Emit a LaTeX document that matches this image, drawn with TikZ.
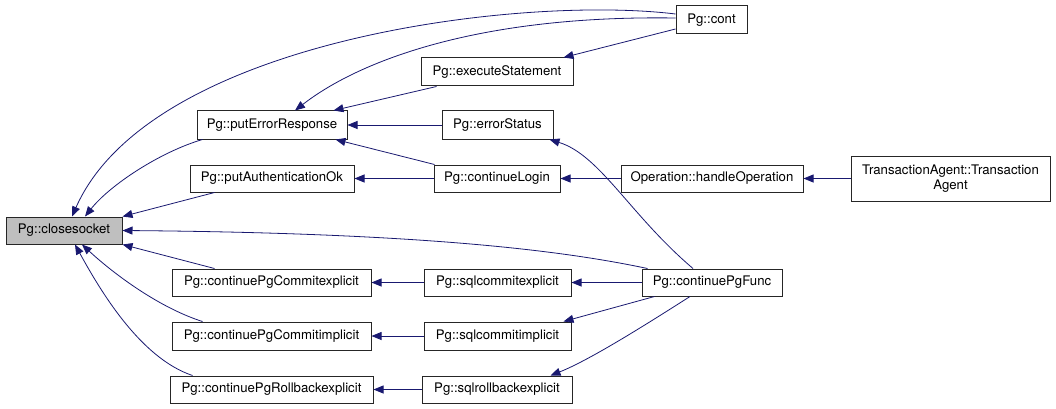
\documentclass[tikz,border=0pt]{standalone}
\usepackage{fontspec}
\setmainfont{TeX Gyre Heros}
\usetikzlibrary{arrows.meta}
\definecolor{edgeblue}{HTML}{191970}
\definecolor{boxgray}{HTML}{BFBFBF}
\begin{document}
\begin{tikzpicture}[x=1pt,y=-1pt,
  fn/.style={draw=black!85, line width=1pt, rectangle, inner sep=0pt, align=center,
    font=\fontsize{13.2pt}{15.5pt}\selectfont, fill=white},
  call/.style={draw=edgeblue, line width=0.8pt, -{Triangle[length=10pt,width=8pt]}, fill=none},
]
\useasboundingbox (0,0) rectangle (1056,409);
% nodes
\node[fn, fill=boxgray, minimum width=116pt, minimum height=27pt] (cs) at (64,230.5) {Pg::closesocket};
\node[fn, minimum width=150pt, minimum height=28pt] (per) at (272,125) {Pg::putErrorResponse};
\node[fn, minimum width=164pt, minimum height=27pt] (pao) at (272,178.5) {Pg::putAuthenticationOk};
\node[fn, minimum width=199pt, minimum height=27pt] (cpce) at (271.5,282.5) {Pg::continuePgCommitexplicit};
\node[fn, minimum width=199pt, minimum height=28pt] (cpci) at (271.5,336) {Pg::continuePgCommitimplicit};
\node[fn, minimum width=203pt, minimum height=27pt] (cprb) at (271.5,389.5) {Pg::continuePgRollbackexplicit};
\node[fn, minimum width=71pt, minimum height=28pt] (cont) at (711.5,20) {Pg::cont};
\node[fn, minimum width=152pt, minimum height=28pt] (es) at (497,72) {Pg::executeStatement};
\node[fn, minimum width=111pt, minimum height=28pt] (est) at (497.5,125) {Pg::errorStatus};
\node[fn, minimum width=126pt, minimum height=27pt] (cl) at (497,178.5) {Pg::continueLogin};
\node[fn, minimum width=182pt, minimum height=27pt] (ho) at (712,178.5) {Operation::handleOperation};
\node[fn, minimum width=199pt, minimum height=45pt] (tat) at (950.5,178.5) {TransactionAgent::Transaction\\Agent};
\node[fn, minimum width=140pt, minimum height=27pt] (cpf) at (712,282.5) {Pg::continuePgFunc};
\node[fn, minimum width=147pt, minimum height=27pt] (sce) at (497.5,282.5) {Pg::sqlcommitexplicit};
\node[fn, minimum width=147pt, minimum height=28pt] (sci) at (497.5,336) {Pg::sqlcommitimplicit};
\node[fn, minimum width=150pt, minimum height=27pt] (srb) at (497,389.5) {Pg::sqlrollbackexplicit};
% edges
\draw[call] ([yshift=6pt]cont.west) .. controls (520,-5) and (150,40) .. ([xshift=8pt]cs.north);
\draw[call] ([yshift=2pt]cont.west) .. controls (480,15) and (360,60) .. ([xshift=23pt]per.north);
\draw[call] ([yshift=-9pt]cont.west) -- ([xshift=-10pt]es.north east);
\draw[call] ([xshift=16pt]es.south west) -- ([xshift=-14pt]per.north east);
\draw[call] (est.west) -- (per.east);
\draw[call] ([xshift=1pt]cl.north west) -- ([xshift=-12pt]per.south east);
\draw[call] (cl.west) -- (pao.east);
\draw[call] (ho.west) -- (cl.east);
\draw[call] (tat.west) -- (ho.east);
\draw[call] ([xshift=-19pt]cpf.north) .. controls (630,215) and (600,155) .. ([xshift=-4pt]est.south east);
\draw[call] ([xshift=6pt]cpf.north west) .. controls (560,250) and (420,233) .. (cs.east);
\draw[call] (cpf.west) -- (sce.east);
\draw[call] (sce.west) -- (cpce.east);
\draw[call] (sci.west) -- (cpci.east);
\draw[call] (srb.west) -- (cprb.east);
\draw[call] ([xshift=13pt]cpf.south west) -- ([xshift=-8pt]sci.north east);
\draw[call] ([xshift=-22pt]cpf.south) .. controls (650,322) and (590,360) .. ([xshift=-22pt]srb.north east);
\draw[call] ([xshift=6pt]per.south west) .. controls (160,152) and (110,185) .. ([xshift=21pt]cs.north);
\draw[call] ([xshift=25pt]pao.south west) -- (cs.north east);
\draw[call] ([xshift=43pt]cpce.north west) -- (cs.south east);
\draw[call] ([xshift=31pt]cpci.north west) .. controls (160,308) and (115,275) .. ([xshift=18pt]cs.south);
\draw[call] ([xshift=23pt]cprb.north west) .. controls (140,358) and (100,290) .. ([xshift=11pt]cs.south);
\end{tikzpicture}
\end{document}
